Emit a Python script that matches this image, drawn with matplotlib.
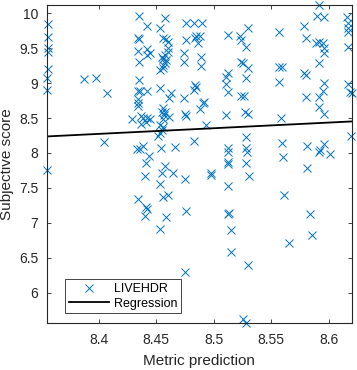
import matplotlib

matplotlib.use("Agg")
import matplotlib.pyplot as plt
import numpy as np

plt.rcParams["font.family"] = ["Liberation Sans", "DejaVu Sans"]
plt.rcParams["font.size"] = 10

# LIVEHDR points (metric prediction, subjective score)
metric_pred = [
    8.356, 8.356, 8.356, 8.356, 8.356, 8.355, 8.355, 8.355,
    8.387, 8.398, 8.407, 8.405,
    8.435, 8.442, 8.434, 8.435, 8.434, 8.442, 8.442, 8.445, 8.435, 8.435,
    8.434, 8.436, 8.442, 8.434, 8.434, 8.434, 8.429, 8.437, 8.439, 8.442,
    8.445, 8.437, 8.441, 8.4335, 8.436, 8.439, 8.444, 8.441, 8.440, 8.434,
    8.441, 8.442, 8.440,
    8.458, 8.453, 8.456, 8.459, 8.460, 8.460, 8.460, 8.458, 8.455, 8.456,
    8.459, 8.458, 8.456, 8.453, 8.456, 8.453, 8.4625, 8.461, 8.456, 8.455,
    8.458, 8.457, 8.461, 8.456, 8.453, 8.456, 8.455, 8.453, 8.452, 8.454,
    8.466, 8.458, 8.455, 8.465, 8.453, 8.456, 8.460, 8.459, 8.453,
    8.476, 8.483, 8.490, 8.476, 8.484, 8.485, 8.4885, 8.486, 8.474, 8.474,
    8.489, 8.489, 8.484, 8.483, 8.4845, 8.474, 8.492, 8.491, 8.4885, 8.475,
    8.476, 8.493, 8.483, 8.475, 8.476, 8.475, 8.4975, 8.498,
    8.512, 8.512, 8.511, 8.5105, 8.512, 8.5105, 8.512, 8.5125, 8.512, 8.5125,
    8.5125, 8.513, 8.5125, 8.515, 8.515,
    8.523, 8.524, 8.528, 8.524, 8.5255, 8.530, 8.528, 8.524, 8.526, 8.527,
    8.530, 8.528, 8.528, 8.529, 8.528, 8.531, 8.530, 8.525, 8.528, 8.530,
    8.557, 8.557, 8.559, 8.557, 8.558, 8.559, 8.560, 8.561, 8.565,
    8.578, 8.580, 8.578, 8.580, 8.580, 8.581, 8.581, 8.584, 8.585,
    8.591, 8.590, 8.596, 8.589, 8.591, 8.595, 8.596, 8.596, 8.591, 8.596,
    8.595, 8.591, 8.591, 8.596, 8.592, 8.591, 8.596, 8.601,
    8.616, 8.617, 8.617, 8.617, 8.617, 8.617, 8.618, 8.620, 8.619,
]
subjective_score = [
    9.847, 9.656, 9.499, 9.450, 9.202, 9.069, 8.901, 7.762,
    9.054, 9.073, 8.854, 8.160,
    9.961, 9.818, 9.653, 9.635, 9.460, 9.484, 9.403, 9.427, 9.298, 9.044,
    8.891, 8.891, 8.891, 8.768, 8.719, 8.672, 8.481, 8.529, 8.496, 8.496,
    8.481, 8.410, 8.447, 8.060, 8.056, 8.103, 7.951, 7.851, 7.669, 7.335,
    7.221, 7.192, 7.096,
    9.928, 9.785, 9.642, 9.627, 9.585, 9.499, 9.450, 9.403, 9.370, 9.341,
    9.331, 9.284, 9.259, 9.188, 9.212, 8.925, 8.854, 8.782, 8.639, 8.590,
    8.590, 8.543, 8.510, 8.481, 8.400, 8.375, 8.328, 8.281, 8.242, 8.066,
    8.089, 7.817, 7.716, 7.708, 7.550, 7.364, 7.397, 7.077, 6.910,
    9.857, 9.857, 9.857, 9.617, 9.642, 9.675, 9.675, 9.579, 9.436, 9.302,
    9.378, 9.249, 8.973, 8.901, 8.940, 8.782, 8.734, 8.711, 8.629, 8.553,
    8.533, 8.400, 8.170, 7.622, 7.168, 6.289, 7.708, 7.683,
    9.689, 9.149, 9.092, 8.987, 8.877, 8.543, 8.066, 8.017, 7.874, 7.841,
    7.526, 7.143, 7.125, 6.895, 6.584,
    9.679, 9.617, 9.521, 9.298, 9.284, 9.212, 9.069, 8.815, 8.815, 8.582,
    8.557, 8.232, 8.066, 8.017, 7.851, 7.669, 6.394, 5.616, 5.563, 9.785,
    9.728, 9.235, 9.235, 9.020, 8.496, 8.146, 7.937, 7.397, 6.713,
    9.818, 9.642, 9.140, 9.116, 8.797, 8.103, 7.779, 7.125, 6.824,
    10.115, 9.961, 9.951, 9.579, 9.593, 9.579, 9.499, 9.427, 9.292, 8.997,
    8.891, 8.805, 8.662, 8.553, 8.042, 8.017, 8.127, 7.980,
    9.951, 9.857, 9.785, 9.736, 9.521, 8.987, 8.877, 8.854, 8.242,
]

# regression line end points
reg_x = [8.355, 8.620]
reg_y = [8.236, 8.451]

x_ticks = [8.40, 8.45, 8.50, 8.55, 8.60]
y_ticks = [6.0, 6.5, 7.0, 7.5, 8.0, 8.5, 9.0, 9.5, 10.0]

axis_grey = "#262626"

fig = plt.figure(figsize=(3.57, 3.70), dpi=100)
ax = fig.add_axes([0.1308, 0.127, 0.855, 0.8587])

ax.plot(metric_pred, subjective_score, "x", color="#0072BD", markersize=6,
        markeredgewidth=0.7, clip_on=False, label="LIVEHDR")
ax.plot(reg_x, reg_y, "-", color="black", linewidth=1.3, label="Regression")

ax.set_xlim(min(metric_pred), max(metric_pred))
ax.set_ylim(min(subjective_score), max(subjective_score))
ax.set_xticks(x_ticks, [f"{v:g}" for v in x_ticks])
ax.set_yticks(y_ticks, [f"{v:g}" for v in y_ticks])

ax.tick_params(direction="in", length=3, width=0.6, top=True, right=True,
               colors=axis_grey, labelsize=10)
ax.tick_params(axis="x", pad=7)
ax.tick_params(axis="y", pad=6)
for spine in ax.spines.values():
    spine.set_color(axis_grey)
    spine.set_linewidth(0.8)

ax.set_xlabel("Metric prediction", fontsize=11, color=axis_grey, labelpad=5.5)
ax.set_ylabel("Subjective score", fontsize=11, color=axis_grey, labelpad=4)

leg = ax.legend(loc="lower left", bbox_to_anchor=(0.06, 0.03), borderaxespad=0,
                fancybox=False, framealpha=1, edgecolor=axis_grey, fontsize=9,
                handlelength=3.2, handletextpad=0.4, borderpad=0.3,
                labelspacing=0.2)
leg.get_frame().set_linewidth(0.6)

fig.savefig("out.png", dpi=100)
